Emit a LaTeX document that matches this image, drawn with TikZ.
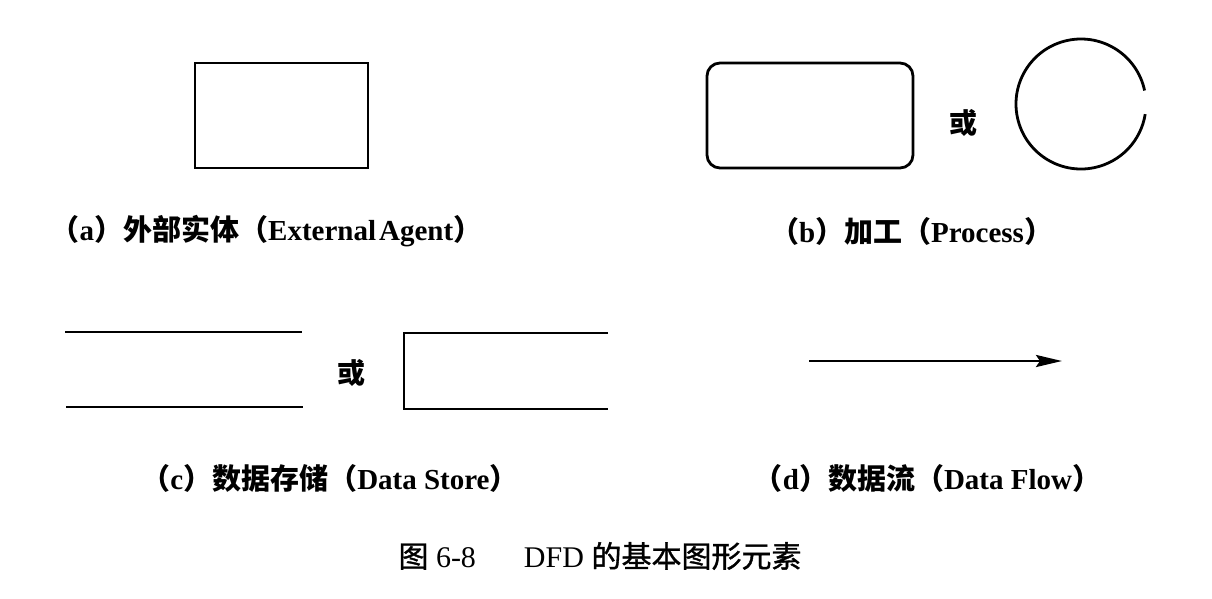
\documentclass[tikz,border=0pt]{standalone}
\usepackage{fontspec}
\setmainfont{Liberation Serif}
\newfontfamily\cjk{Noto Sans CJK SC}
\newfontfamily\cjkmed[FakeBold=1.2]{Noto Sans CJK SC}
\usetikzlibrary{arrows.meta}
\newcommand\zh[1]{{\cjk\bfseries #1}}
\begin{document}
\begin{tikzpicture}[x=1pt,y=-1pt,
  boxstyle/.style={draw, line width=2.8pt, inner sep=0pt, outer sep=0pt},
  lbl/.style={inner sep=0pt, font=\fontsize{29}{29}\selectfont\bfseries},
  orlbl/.style={inner sep=0pt, font=\fontsize{28}{28}\selectfont},
  captxt/.style={inner sep=0pt, font=\fontsize{30}{30}\selectfont},
  line/.style={line width=2.8pt}]
\path[use as bounding box, fill=white] (0,0) rectangle (1212,598);
% (a) external agent
\node[boxstyle, rectangle, minimum width=173pt, minimum height=105pt] (ext) at (281.5,115.5) {};
% (b) process
\node[boxstyle, rectangle, rounded corners=13pt, minimum width=206pt, minimum height=105pt] (proc) at (810,115.5) {};
\node[orlbl] (or1) at (963,123) {\zh{或}};
\node[circle, inner sep=0pt, outer sep=0pt, minimum size=130pt] (circ) at (1081,104) {};
\draw[line] (circ.12) arc[start angle=12, end angle=351, radius=65pt];
% (c) data store
\coordinate (s1a) at (65,332);
\coordinate (s1b) at (302,332);
\coordinate (s2a) at (66,407);
\coordinate (s2b) at (303,407);
\draw[line] (s1a) -- (s1b);
\draw[line] (s2a) -- (s2b);
\node[orlbl] (or2) at (351,373) {\zh{或}};
\coordinate (t1) at (608,333);
\coordinate (t2) at (404,333);
\coordinate (t3) at (404,409);
\coordinate (t4) at (608,409);
\draw[line] (t1) -- (t2) -- (t3) -- (t4);
% (d) data flow
\coordinate (fa) at (809,361);
\coordinate (fb) at (1062,361);
\draw[line, -{Stealth[length=26pt, width=12pt, inset=4pt]}] (fa) -- (fb);
% labels
\node[lbl] (la) at (266.5,231) {\zh{（}a\zh{）外部实体（}External\hspace{3pt}Agent\zh{）}};
\node[lbl] (lb) at (911.5,231) {\zh{（}b\zh{）加工（}Process\zh{）}};
\node[lbl] (lc) at (330,478) {\zh{（}c\zh{）数据存储（}Data Store\zh{）}};
\node[lbl] (ld) at (927.5,478) {\zh{（}d\zh{）数据流（}Data Flow\zh{）}};
\node[captxt] (caption) at (600,556) {{\cjkmed 图} 6-8\hspace{48pt}DFD {\cjkmed 的基本图形元素}};
\end{tikzpicture}
\end{document}
